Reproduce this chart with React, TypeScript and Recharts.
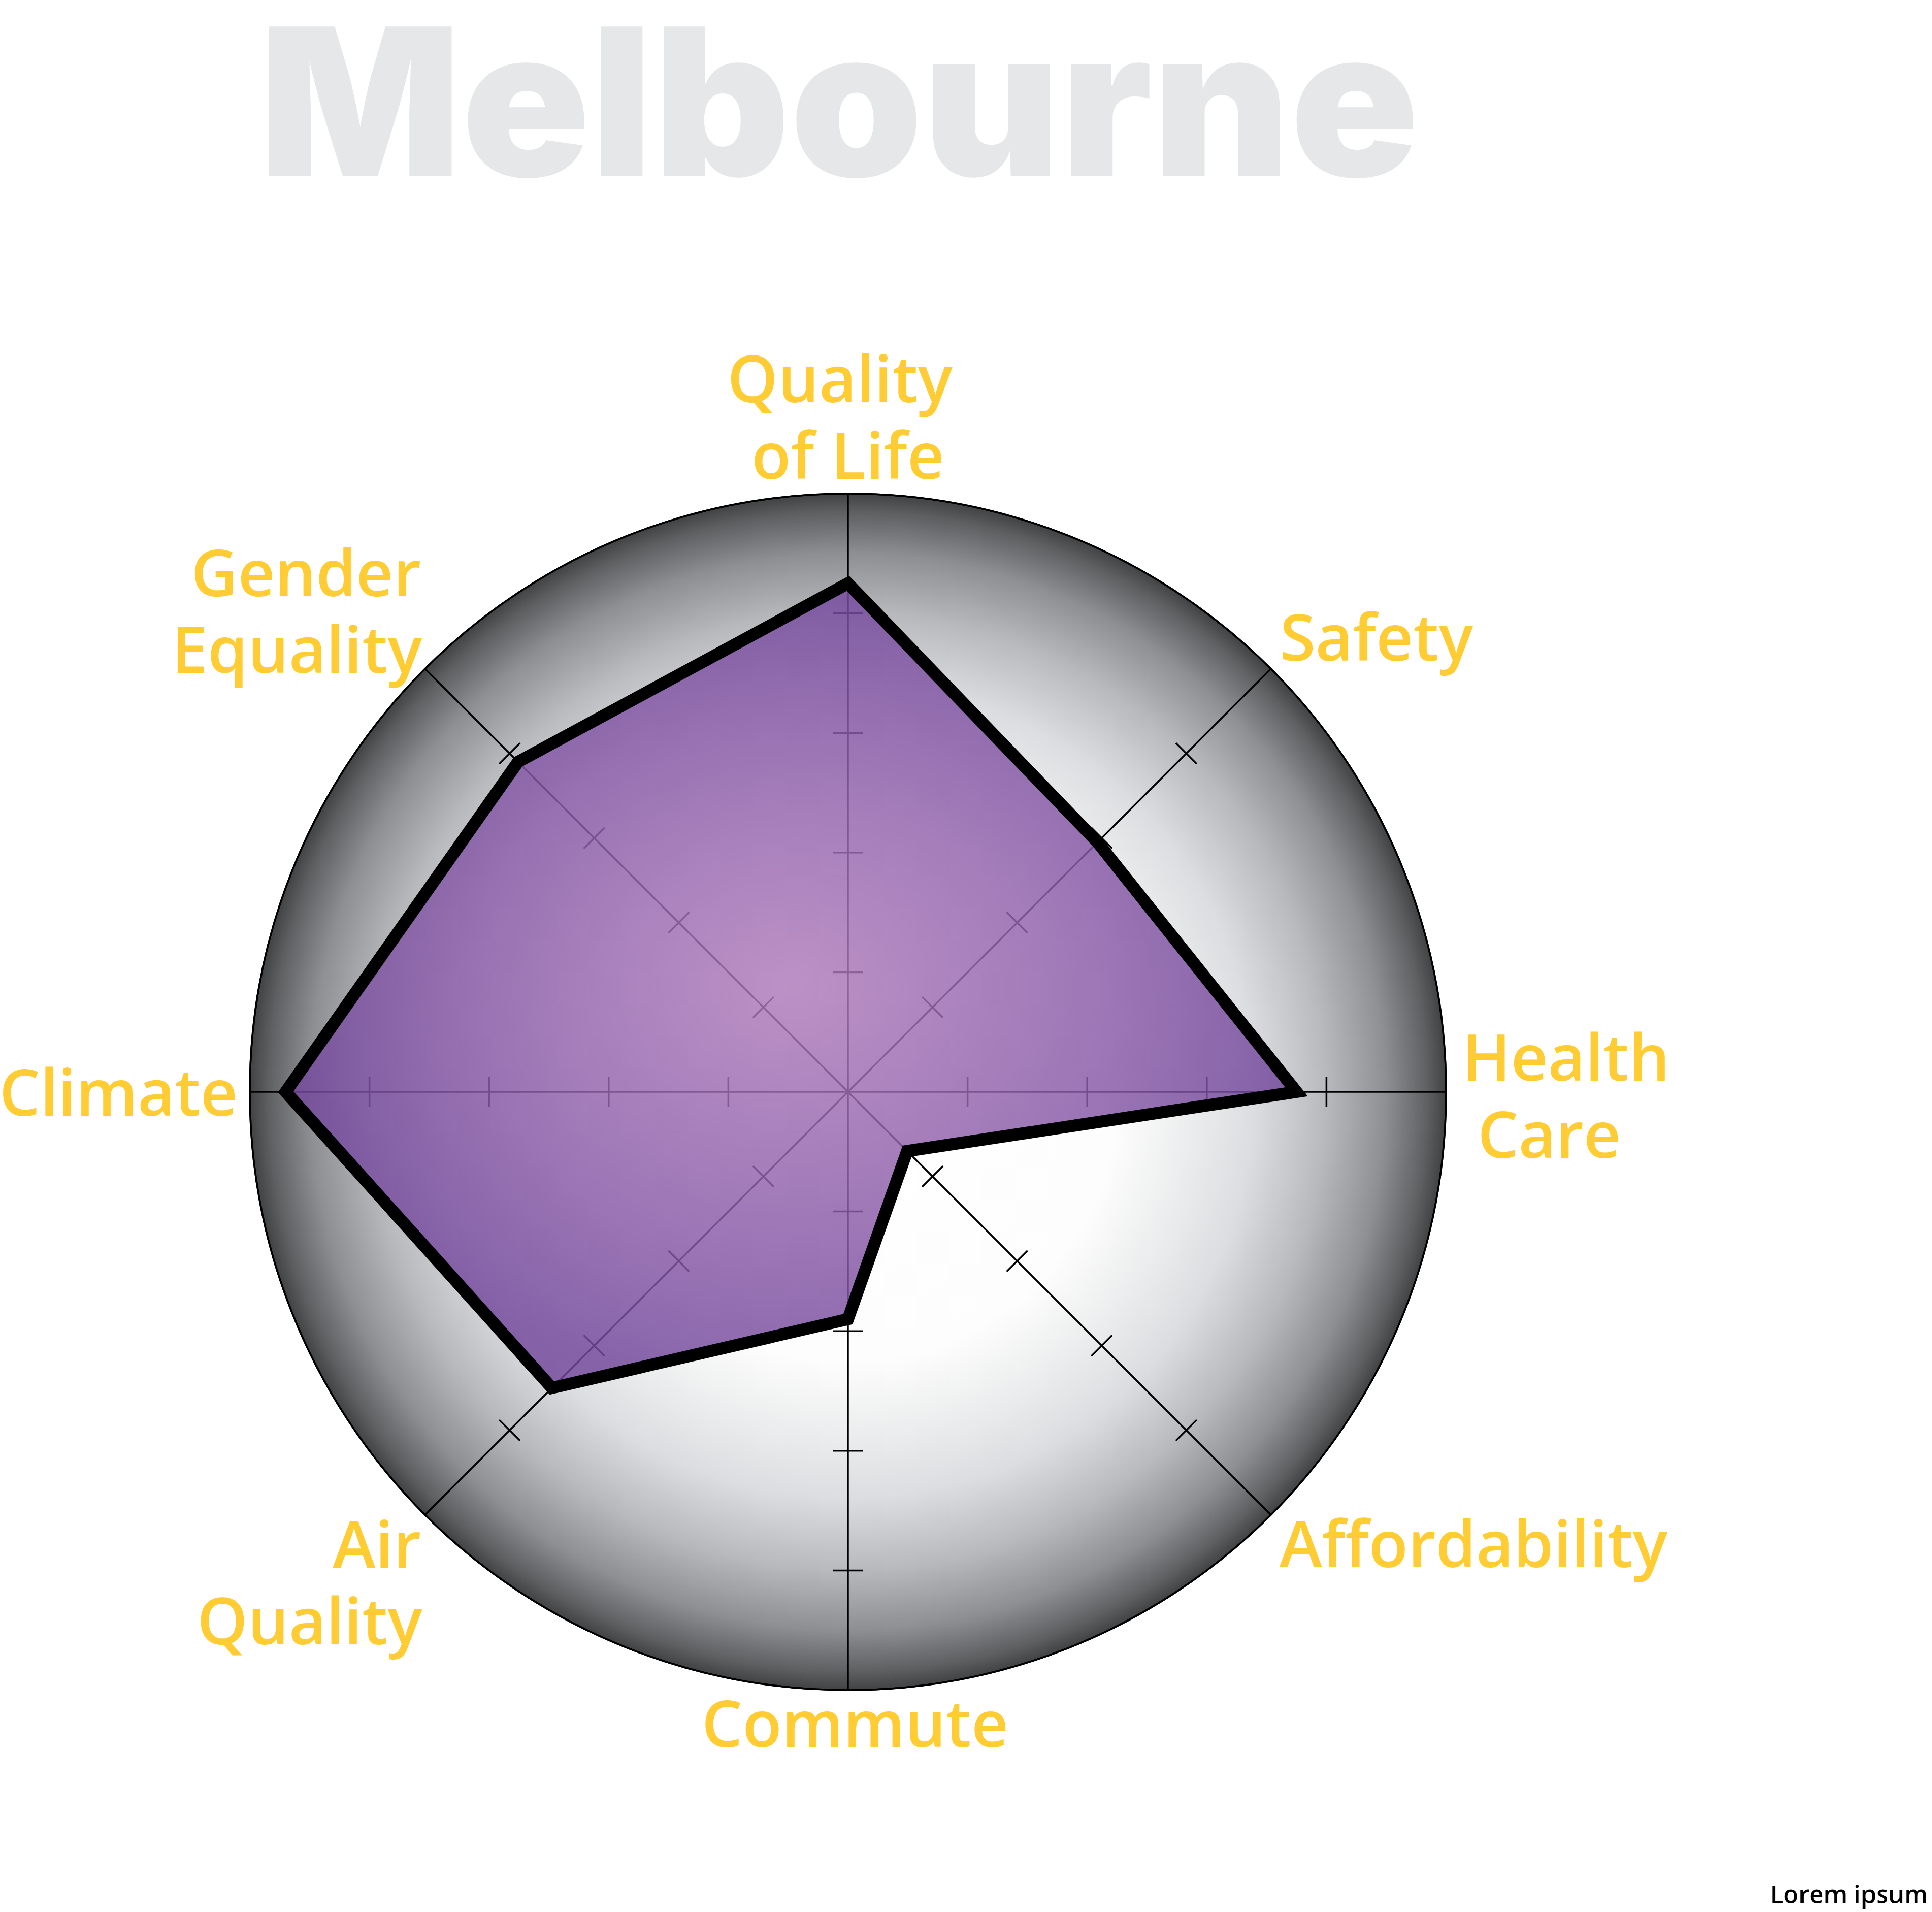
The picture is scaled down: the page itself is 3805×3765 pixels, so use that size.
import React from 'react';
import { RadarChart, Radar, PolarGrid, PolarAngleAxis, PolarRadiusAxis } from 'recharts';

// city scores, 0-100, clockwise from the top
const subjects = [
  'Quality of Life',
  'Safety',
  'Health Care',
  'Affordability',
  'Commute',
  'Air Quality',
  'Climate',
  'Gender Equality',
];
const scores = [85, 59, 75, 14, 38, 70, 94, 78];
const scoreDomain = [0, 100];
const scoreSteps = [20, 40, 60, 80];
const title = 'Melbourne';
const footnote = 'Lorem ipsum';

const data = subjects.map((subject, i) => ({ subject, value: scores[i] }));

const W = 3805;
const H = 3765;
const CX = 1670;
const CY = 2150;
const R = 1178;
const LABEL_FONT = '"Open Sans", "Noto Sans", sans-serif';
const LABEL_COLOR = '#FFCC33';

// how each axis label sits around the end of its spoke
const labelLayout: Record<string, { lines: string[]; anchor: 'start' | 'middle' | 'end'; dx: number[]; dy: number[] }> = {
  'Quality of Life': { lines: ['Quality', 'of Life'], anchor: 'middle', dx: [-16, 0], dy: [-172, -21] },
  Safety: { lines: ['Safety'], anchor: 'start', dx: [12], dy: [-10] },
  'Health Care': { lines: ['Health', 'Care'], anchor: 'start', dx: [24, 54], dy: [-22, 130] },
  Affordability: { lines: ['Affordability'], anchor: 'start', dx: [11], dy: [97] },
  Commute: { lines: ['Commute'], anchor: 'middle', dx: [14], dy: [104] },
  'Air Quality': { lines: ['Air', 'Quality'], anchor: 'end', dx: [-2, 0], dy: [98, 249] },
  Climate: { lines: ['Climate'], anchor: 'end', dx: [-16], dy: [47] },
  'Gender Equality': { lines: ['Gender', 'Equality'], anchor: 'end', dx: [-2, 0], dy: [-137, 14] },
};

const AngleLabel = (props: any) => {
  const { x, y, payload } = props;
  const layout = labelLayout[payload.value];
  if (!layout) return null;
  return (
    <g>
      {layout.lines.map((line, i) => (
        <text
          key={line}
          x={x + layout.dx[i]}
          y={y + layout.dy[i]}
          textAnchor={layout.anchor}
          fill={LABEL_COLOR}
          fontFamily={LABEL_FONT}
          fontWeight={600}
          fontSize={127}
        >
          {line}
        </text>
      ))}
    </g>
  );
};

// cross marks across every spoke at each score step, placed with the radar's own scale
const CrossTicks = (props: any) => {
  const points = props.points || [];
  const h = 29;
  const marks: React.ReactNode[] = [];
  points.forEach((p: any, i: number) => {
    if (!p.value || !p.radius) return;
    const perUnit = p.radius / p.value;
    const ux = (p.x - p.cx) / p.radius;
    const uy = (p.y - p.cy) / p.radius;
    scoreSteps.forEach((s) => {
      const r = s * perUnit;
      const x = p.cx + ux * r;
      const y = p.cy + uy * r;
      marks.push(
        <line
          key={`${i}-${s}`}
          x1={x - uy * h}
          y1={y + ux * h}
          x2={x + uy * h}
          y2={y - ux * h}
          stroke="#000"
          strokeWidth={3.5}
        />
      );
    });
  });
  return <g>{marks}</g>;
};

const App: React.FC = () => {
  return (
    <div style={{ position: 'absolute', left: 0, top: 0, width: W, height: H, background: '#fff' }}>
      <RadarChart
        width={W}
        height={H}
        data={data}
        cx={CX}
        cy={CY}
        outerRadius={R}
        margin={{ top: 0, right: 0, bottom: 0, left: 0 }}
      >
        <defs>
          <radialGradient id="bgGrad" cx="50%" cy="50%" r="50%">
            <stop offset="0%" stopColor="#ffffff" />
            <stop offset="45%" stopColor="#fdfdfd" />
            <stop offset="60%" stopColor="#e8e9ea" />
            <stop offset="68%" stopColor="#dcdde0" />
            <stop offset="80%" stopColor="#b8b9bc" />
            <stop offset="90%" stopColor="#8e8f92" />
            <stop offset="97%" stopColor="#5e5f61" />
            <stop offset="100%" stopColor="#414243" />
          </radialGradient>
          <radialGradient id="purpleGrad" cx="50%" cy="50%" r="50%">
            <stop offset="0%" stopColor="#AF7CBB" />
            <stop offset="100%" stopColor="#744A9D" />
          </radialGradient>
        </defs>
        <text
          x={1652}
          y={347}
          textAnchor="middle"
          fill="#E6E7E8"
          fontFamily="Inter, Lato, sans-serif"
          fontWeight={900}
          fontSize={405}
          textLength={2285}
          lengthAdjust="spacingAndGlyphs"
        >
          {title}
        </text>
        <PolarGrid
          gridType="circle"
          polarRadius={[R]}
          stroke="#000"
          strokeWidth={3.5}
          strokeOpacity={1}
          fill="url(#bgGrad)"
          fillOpacity={1}
        />
        <PolarRadiusAxis domain={scoreDomain} type="number" axisLine={false} tick={false} />
        <PolarAngleAxis
          dataKey="subject"
          tick={<AngleLabel />}
          tickLine={false}
          axisLine={false}
        />
        <Radar
          dataKey="value"
          shape={CrossTicks}
          stroke="none"
          fill="none"
          legendType="none"
          isAnimationActive={false}
        />
        <Radar
          dataKey="value"
          stroke="#000"
          strokeWidth={24}
          strokeLinejoin="miter"
          fill="url(#purpleGrad)"
          fillOpacity={0.84}
          dot={false}
          isAnimationActive={false}
        />
        <text
          x={3797}
          y={3748}
          textAnchor="end"
          fill="#000"
          fontFamily={LABEL_FONT}
          fontWeight={600}
          fontSize={49}
        >
          {footnote}
        </text>
      </RadarChart>
    </div>
  );
};

export default App;
